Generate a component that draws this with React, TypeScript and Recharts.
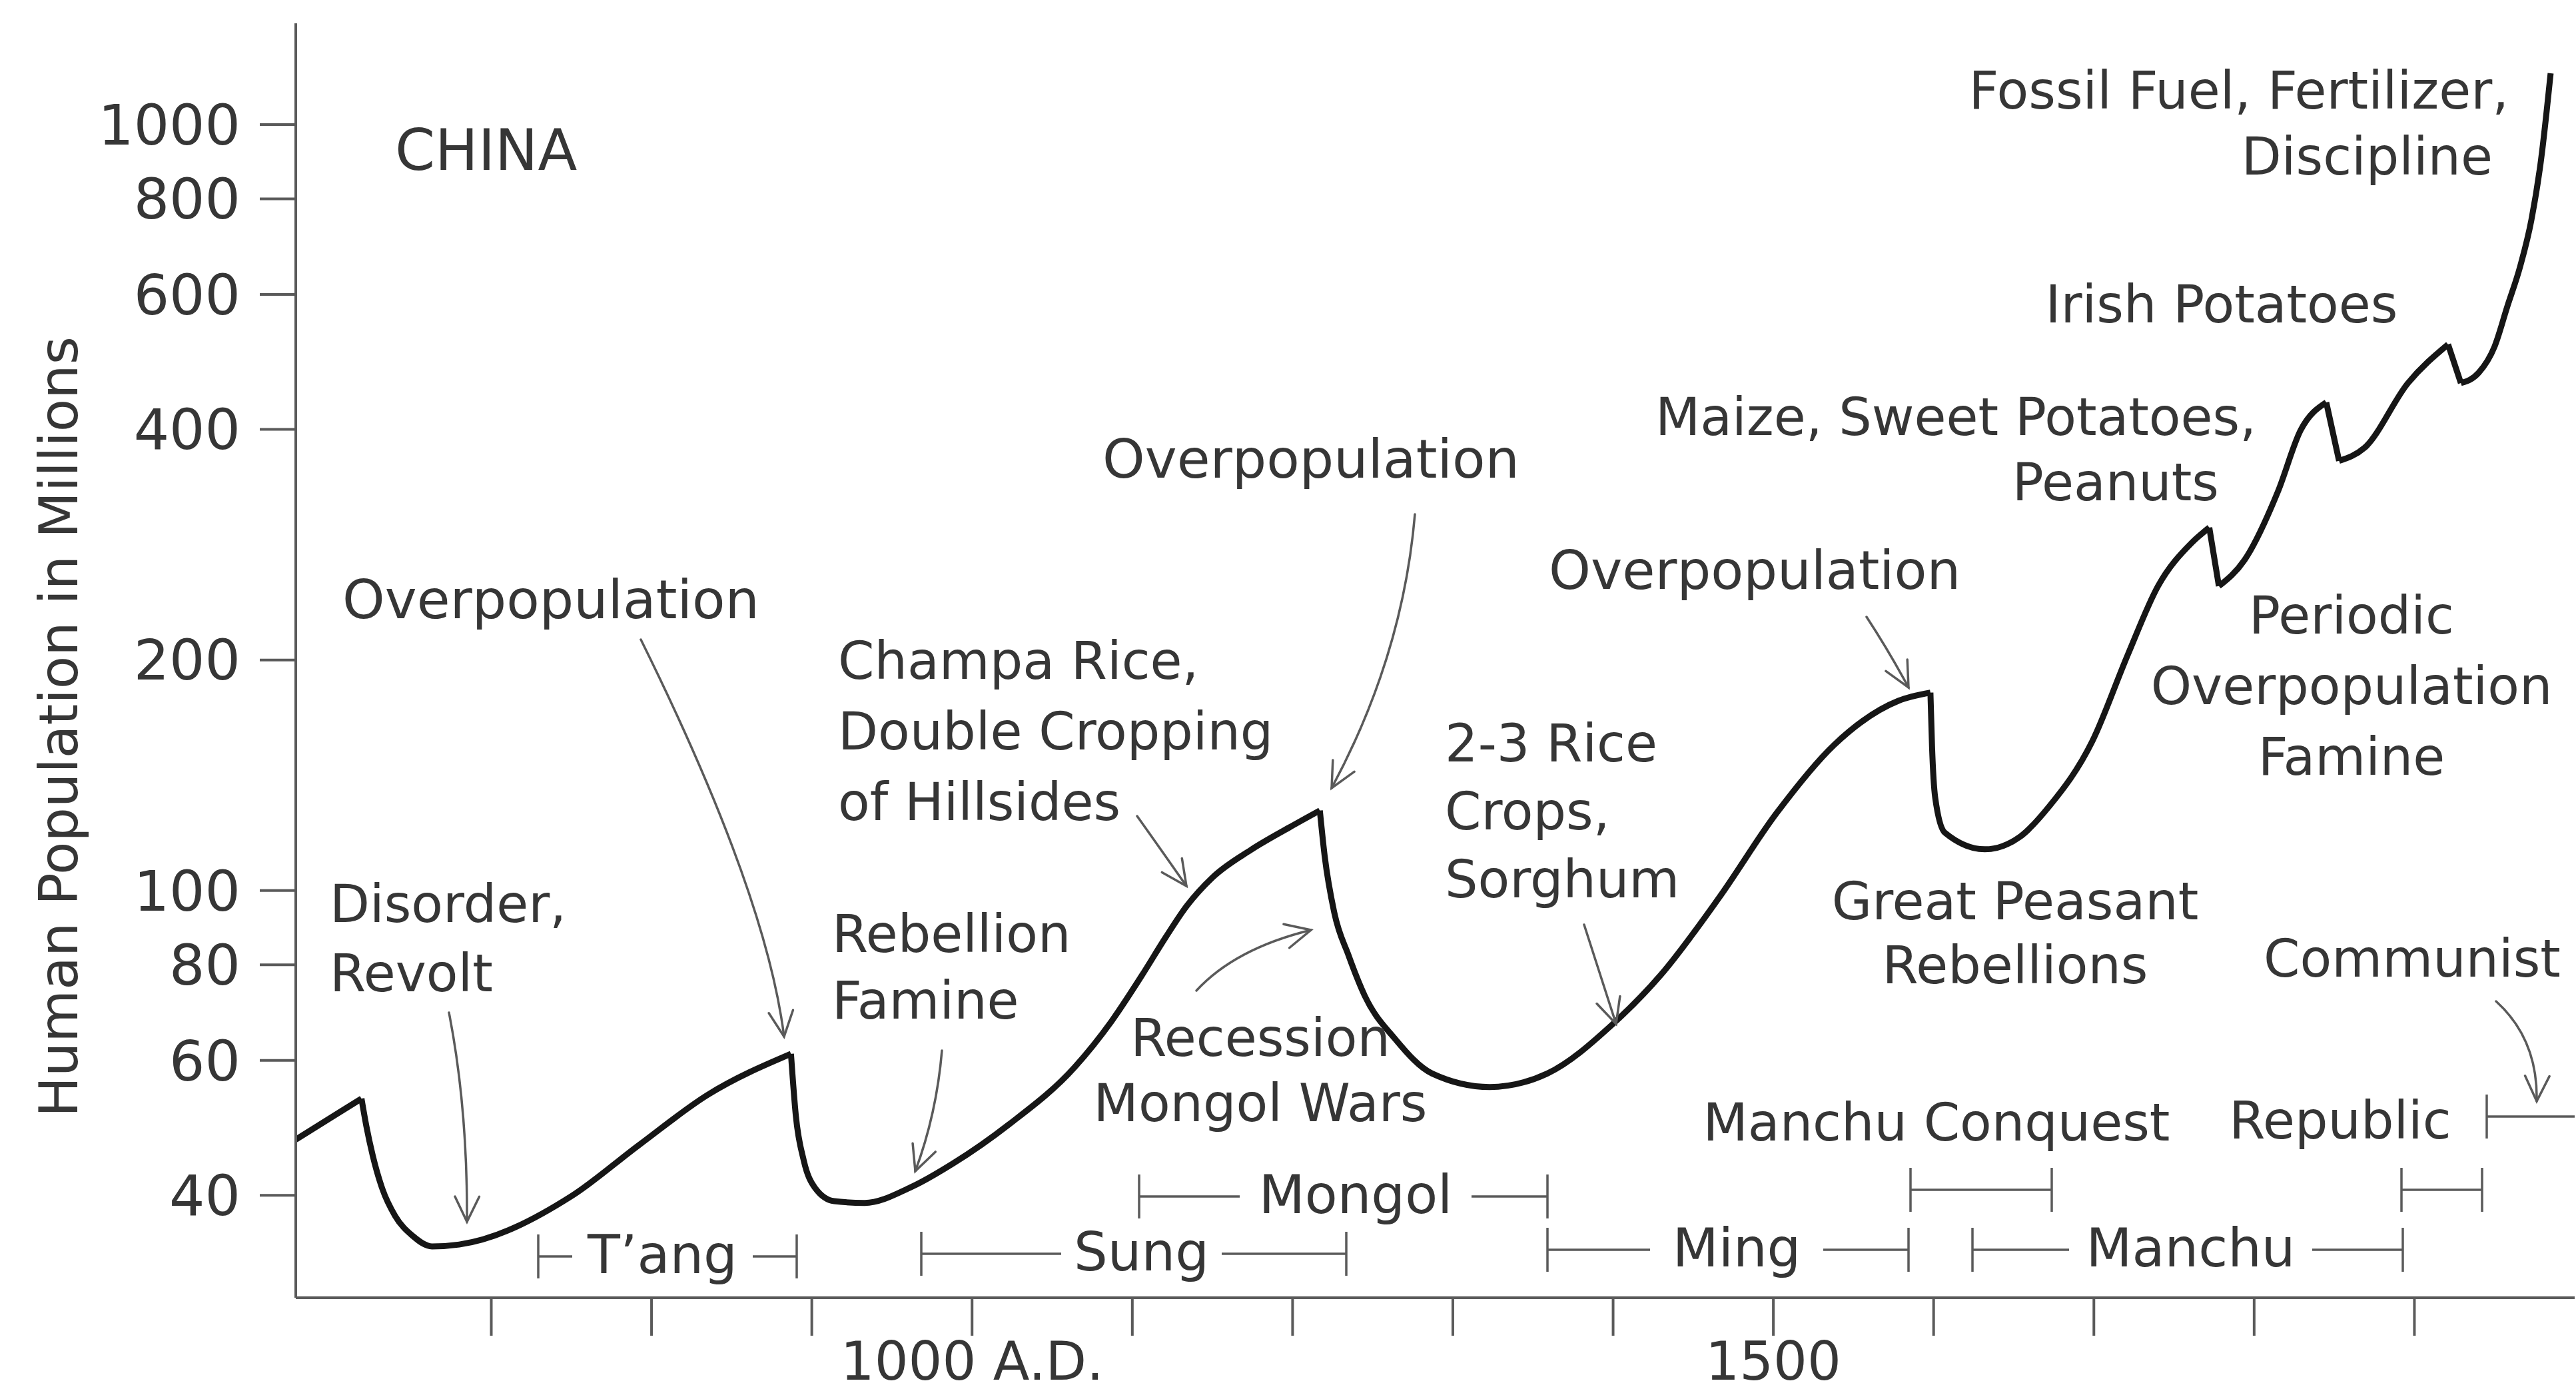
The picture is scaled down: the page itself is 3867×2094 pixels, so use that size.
import React from 'react';
import { LineChart, Line, XAxis, YAxis } from 'recharts';

// China population, millions
const years = [
  578, 619, 622, 626, 632, 640, 651, 663, 680, 750, 792,
  835, 887, 890, 895, 902, 914, 933, 962, 988, 1023,
  1064, 1087, 1106, 1121, 1134, 1150, 1174, 1198, 1217, 1220, 1226, 1235,
  1245, 1264, 1287, 1323, 1359, 1400, 1430, 1466, 1502, 1538,
  1578, 1598, 1599, 1601, 1607, 1632, 1654, 1672, 1699, 1721,
  1740, 1761, 1772, 1778, 1794, 1815, 1829, 1845, 1853, 1869,
  1896, 1921, 1929, 1940, 1950, 1958, 1966, 1973, 1979, 1985,
];
const population = [
  47.3, 53.5, 49.3, 45.1, 40.8, 37.6, 35.4, 34.3, 34.5, 39.9, 46.5,
  54.1, 61.2, 50.9, 44.4, 40.9, 39.3, 39.1, 41.0, 44.0, 49.5,
  58.8, 67.5, 77.5, 87.0, 95.5, 104.0, 113.0, 120.9, 127.2, 111, 93.6, 82.2,
  72.9, 64.0, 57.7, 55.4, 57.7, 67.0, 77.7, 97.8, 126.2, 155.0,
  176.9, 181.3, 154.4, 132.1, 119.0, 113.2, 117.6, 128.7, 156.6, 202.8,
  249.7, 284.4, 297.8, 249.7, 270.1, 332.5, 399.0, 433.9, 363.9, 378.7,
  459.8, 516.5, 459.8, 474, 513, 579, 653, 751, 899, 1167,
];
// sharp peaks / dips where the curve has a corner
const cuspYears = [619, 887, 1217, 1598, 1772, 1778, 1845, 1853, 1921, 1929];

const xTicks = [700, 800, 900, 1000, 1100, 1200, 1300, 1400, 1500, 1600, 1700, 1800, 1900];
const xTickLabels: Record<number, string> = { 1000: '1000 A.D.', 1500: '1500' };
const yTicks = [40, 60, 80, 100, 200, 400, 600, 800, 1000];

const FONT = '"DejaVu Sans", sans-serif';
const INK = '#363636';
const GRAY = '#5a5a5a';

// split the curve into pieces at the corners so the smooth interpolation keeps them sharp
const rows = years.map((year, i) => {
  const row: Record<string, number | null> = { year, s0: null, s1: null, s2: null };
  const k = cuspYears.filter((c) => c < year).length;
  row['s' + (k % 3)] = population[i];
  if (cuspYears.includes(year)) row['s' + ((k + 1) % 3)] = population[i];
  return row;
});

// annotations (page pixels)
type Note = { lines: string[]; x: number; y: number; gap?: number; anchor?: 'start' | 'middle' | 'end'; size?: number };
const notes: Note[] = [
  { lines: ['CHINA'], x: 593, y: 255, size: 86 },
  { lines: ['Overpopulation'], x: 514, y: 928, size: 81 },
  { lines: ['Disorder,', 'Revolt'], x: 495, y: 1384, gap: 104 },
  { lines: ['Champa Rice,', 'Double Cropping', 'of Hillsides'], x: 1258, y: 1019, gap: 106 },
  { lines: ['Rebellion', 'Famine'], x: 1249, y: 1429, gap: 100 },
  { lines: ['Overpopulation'], x: 1655, y: 717, size: 81 },
  { lines: ['Recession', 'Mongol Wars'], x: 1892, y: 1585, gap: 98, anchor: 'middle' },
  { lines: ['2-3 Rice', 'Crops,', 'Sorghum'], x: 2169, y: 1143, gap: 102 },
  { lines: ['Overpopulation'], x: 2325, y: 884, size: 80 },
  { lines: ['Great Peasant', 'Rebellions'], x: 3025, y: 1380, gap: 96, anchor: 'middle' },
  { lines: ['Maize, Sweet Potatoes,'], x: 3387, y: 653, anchor: 'end' },
  { lines: ['Peanuts'], x: 3331, y: 751, anchor: 'end' },
  { lines: ['Irish Potatoes'], x: 3335, y: 484, anchor: 'middle' },
  { lines: ['Fossil Fuel, Fertilizer,'], x: 3766, y: 163, anchor: 'end' },
  { lines: ['Discipline'], x: 3742, y: 262, anchor: 'end' },
  { lines: ['Periodic', 'Overpopulation', 'Famine'], x: 3530, y: 951, gap: 106, anchor: 'middle' },
  { lines: ['Communist'], x: 3621, y: 1466, anchor: 'middle' },
  { lines: ['Manchu Conquest'], x: 2907, y: 1712, anchor: 'middle' },
  { lines: ['Republic'], x: 3513, y: 1709, anchor: 'middle' },
];

type Bracket = { x1: number; x2: number; y: number; label?: string; a?: number; b?: number; openRight?: boolean };
const brackets: Bracket[] = [
  { label: 'T\u2019ang', x1: 808, x2: 1196, y: 1886, a: 859, b: 1130 },
  { label: 'Sung', x1: 1383, x2: 2021, y: 1882, a: 1593, b: 1834 },
  { label: 'Mongol', x1: 1710, x2: 2323, y: 1796, a: 1861, b: 2209 },
  { label: 'Ming', x1: 2323, x2: 2865, y: 1876, a: 2477, b: 2737 },
  { label: 'Manchu', x1: 2961, x2: 3607, y: 1876, a: 3106, b: 3471 },
  { x1: 2868, x2: 3080, y: 1786 },
  { x1: 3605, x2: 3726, y: 1786 },
  { x1: 3733, x2: 3865, y: 1676, openRight: true },
];

type Pt = [number, number];
const arrows: { from: Pt; ctrl: Pt; to: Pt }[] = [
  { from: [962, 960], ctrl: [1150, 1340], to: [1177, 1556] },
  { from: [674, 1520], ctrl: [702, 1663], to: [701, 1834] },
  { from: [1414, 1577], ctrl: [1406, 1672], to: [1374, 1758] },
  { from: [1707, 1225], ctrl: [1744, 1277], to: [1781, 1330] },
  { from: [2124, 772], ctrl: [2106, 984], to: [1999, 1183] },
  { from: [1796, 1487], ctrl: [1854, 1424], to: [1968, 1396] },
  { from: [2378, 1388], ctrl: [2402, 1462], to: [2426, 1537] },
  { from: [2802, 926], ctrl: [2836, 978], to: [2865, 1032] },
  { from: [3747, 1503], ctrl: [3810, 1560], to: [3808, 1653] },
];

function Arrow({ from, ctrl, to }: { from: Pt; ctrl: Pt; to: Pt }) {
  const ang = Math.atan2(to[1] - ctrl[1], to[0] - ctrl[0]);
  const len = 42;
  const spread = 0.45;
  const h1: Pt = [to[0] - len * Math.cos(ang - spread), to[1] - len * Math.sin(ang - spread)];
  const h2: Pt = [to[0] - len * Math.cos(ang + spread), to[1] - len * Math.sin(ang + spread)];
  return (
    <g stroke={GRAY} strokeWidth={3.5} fill="none" strokeLinecap="round">
      <path d={`M${from[0]},${from[1]} Q${ctrl[0]},${ctrl[1]} ${to[0]},${to[1]}`} />
      <path d={`M${h1[0]},${h1[1]} L${to[0]},${to[1]} L${h2[0]},${h2[1]}`} />
    </g>
  );
}

function Overlay() {
  return (
    <svg
      width={3867}
      height={2094}
      style={{ position: 'absolute', left: 0, top: 0, pointerEvents: 'none' }}
    >
      <text
        x={116}
        y={1091}
        transform="rotate(-90 116 1091)"
        textAnchor="middle"
        fontFamily={FONT}
        fontSize={81}
        fill={INK}
      >
        Human Population in Millions
      </text>

      {notes.map((n, i) => (
        <text key={i} fontFamily={FONT} fontSize={n.size ?? 78} fill={INK} textAnchor={n.anchor ?? 'start'}>
          {n.lines.map((l, j) => (
            <tspan key={j} x={n.x} y={n.y + j * (n.gap ?? 100)}>
              {l}
            </tspan>
          ))}
        </text>
      ))}

      {brackets.map((b, i) => (
        <g key={i} stroke={GRAY} strokeWidth={3.5}>
          <line x1={b.x1} y1={b.y - 33} x2={b.x1} y2={b.y + 33} />
          {!b.openRight && <line x1={b.x2} y1={b.y - 33} x2={b.x2} y2={b.y + 33} />}
          {b.label ? (
            <>
              <line x1={b.x1} y1={b.y} x2={b.a} y2={b.y} />
              <line x1={b.b} y1={b.y} x2={b.x2} y2={b.y} />
              <text
                x={((b.a as number) + (b.b as number)) / 2}
                y={b.y + 25}
                textAnchor="middle"
                fontFamily={FONT}
                fontSize={80}
                fill={INK}
                stroke="none"
              >
                {b.label}
              </text>
            </>
          ) : (
            <line x1={b.x1} y1={b.y} x2={b.x2} y2={b.y} />
          )}
        </g>
      ))}

      {arrows.map((a, i) => (
        <Arrow key={i} {...a} />
      ))}
    </svg>
  );
}

export default function App() {
  const axisStroke = { stroke: GRAY, strokeWidth: 4 };
  const tickStyle = { fill: INK, fontSize: 84, fontFamily: FONT };
  return (
    <div style={{ position: 'relative', width: 3867, height: 2094, background: '#fff' }}>
      <style>{'body{margin:0;background:#fff}'}</style>
      <LineChart width={3867} height={2094} data={rows} margin={{ top: 35, right: 2, bottom: 0, left: 0 }}>
        <XAxis
          dataKey="year"
          type="number"
          domain={[578, 2000]}
          allowDataOverflow
          ticks={xTicks}
          interval={0}
          tickFormatter={(v: number) => xTickLabels[v] ?? ''}
          tickSize={57}
          tickMargin={9}
          height={146}
          axisLine={axisStroke}
          tickLine={axisStroke}
          tick={{ ...tickStyle, fontSize: 80 }}
        />
        <XAxis
          xAxisId="top"
          orientation="top"
          type="number"
          domain={[578, 2000]}
          allowDataOverflow
          tick={false}
          tickLine={false}
          height={0}
          axisLine={axisStroke}
        />
        <YAxis
          type="number"
          scale="log"
          domain={[29.4, 1356]}
          allowDataOverflow
          ticks={yTicks}
          interval={0}
          width={444}
          tickSize={54}
          tickMargin={29}
          axisLine={axisStroke}
          tickLine={axisStroke}
          tick={tickStyle}
        />
        <YAxis
          yAxisId="right"
          orientation="right"
          type="number"
          domain={[0, 1]}
          width={0}
          tick={false}
          tickLine={false}
          axisLine={axisStroke}
        />
        {['s0', 's1', 's2'].map((k) => (
          <Line
            key={k}
            dataKey={k}
            type="monotone"
            stroke="#161616"
            strokeWidth={9}
            strokeLinejoin="round"
            dot={false}
            activeDot={false}
            connectNulls={false}
            isAnimationActive={false}
          />
        ))}
      </LineChart>
      <Overlay />
    </div>
  );
}
